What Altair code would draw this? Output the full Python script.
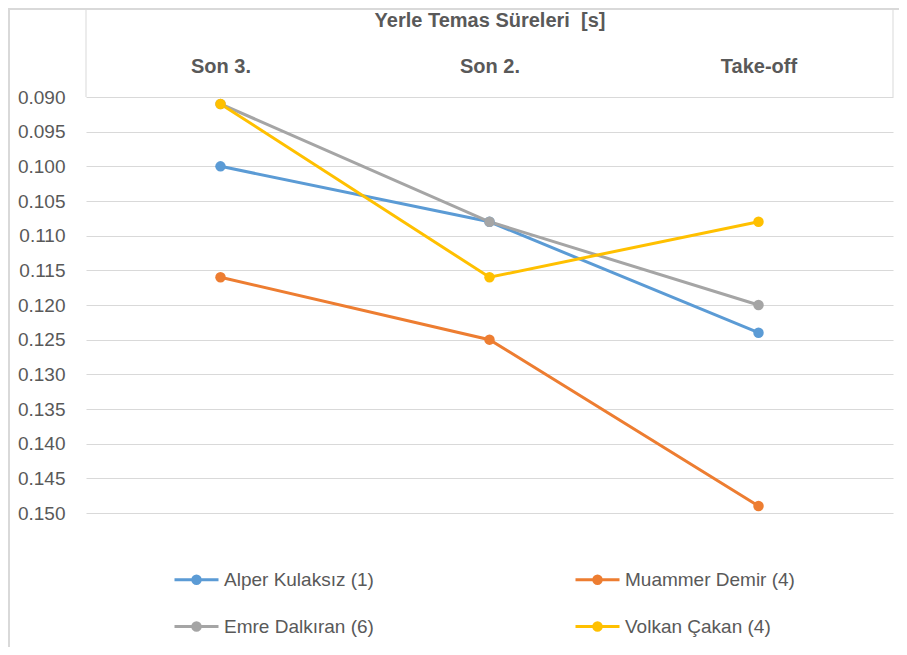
import altair as alt
import pandas as pd

categories = ["Son 3.", "Son 2.", "Take-off"]
athletes = ["Alper Kulaksız (1)", "Muammer Demir (4)", "Emre Dalkıran (6)", "Volkan Çakan (4)"]
alper = [0.100, 0.108, 0.124]
muammer = [0.116, 0.125, 0.149]
emre = [0.091, 0.108, 0.120]
volkan = [0.091, 0.116, 0.108]
colors = ["#5B9BD5", "#ED7D31", "#A5A5A5", "#FFC000"]
y_ticks = [0.090, 0.095, 0.100, 0.105, 0.110, 0.115, 0.120, 0.125,
           0.130, 0.135, 0.140, 0.145, 0.150]
title_text = "Yerle Temas Süreleri \u00a0[s]"

rows = []
for name, vals in zip(athletes, [alper, muammer, emre, volkan]):
    for i, (cat, v) in enumerate(zip(categories, vals)):
        rows.append({"athlete": name, "phase": cat, "idx": i, "value": v})
df = pd.DataFrame(rows)

FONT = "Liberation Sans"
TXT = "#595959"
GRID = "#D9D9D9"
W, H = 807, 416

sym = ("M-1,0H1"
       "M-0.068,0a0.068,0.068 0 1,0 0.136,0a0.068,0.068 0 1,0 -0.136,0"
       "M-0.17,0a0.17,0.17 0 1,0 0.34,0a0.17,0.17 0 1,0 -0.34,0")

x_enc = alt.X(
    "phase:N",
    sort=categories,
    scale=alt.Scale(domain=categories, padding=0.5),
    axis=alt.Axis(
        orient="top", title=title_text, labelAngle=0, ticks=False, tickSize=0,
        domain=False, grid=False, labelPadding=31, labelBaseline="middle",
        labelFont=FONT, labelFontSize=20, labelFontWeight="bold", labelColor=TXT,
        titleFont=FONT, titleFontSize=20, titleFontWeight="bold", titleColor=TXT,
        titleX=W / 2, titleY=-77, titleAlign="center", titleBaseline="middle",
        titleAngle=0,
    ),
)
y_enc = alt.Y(
    "value:Q",
    scale=alt.Scale(domain=[0.09, 0.15], reverse=True, nice=False, zero=False),
    axis=alt.Axis(
        values=y_ticks, format=".3f", title=None, grid=True, gridColor=GRID,
        gridWidth=1, domain=False, ticks=False, tickSize=0, labelPadding=21,
        labelFont=FONT, labelFontSize=19, labelColor=TXT,
    ),
)
color_enc = alt.Color(
    "athlete:N",
    sort=athletes,
    scale=alt.Scale(domain=athletes, range=colors),
    legend=alt.Legend(
        title=None, orient="none", legendX=87, legendY=459, direction="horizontal",
        columns=2, columnPadding=195, rowPadding=13, padding=0,
        symbolType=sym, symbolSize=1936, symbolStrokeWidth=3, labelOffset=4,
        labelFont=FONT, labelFontSize=19, labelColor=TXT, labelLimit=400,
    ),
)

base = alt.Chart(df)
lines = base.mark_line(strokeWidth=3).encode(
    x=x_enc, y=y_enc, color=color_enc, order="idx:Q"
)
points = base.mark_point(filled=True, size=110, opacity=1).encode(
    x=x_enc, y=y_enc, color=color_enc
)

one = alt.Data(values=[{}])
hdr_left = alt.Chart(one).mark_rule(color=GRID, strokeWidth=1).encode(
    x=alt.value(0), y=alt.value(-89), y2=alt.value(0))
hdr_right = alt.Chart(one).mark_rule(color=GRID, strokeWidth=1).encode(
    x=alt.value(W), y=alt.value(-89), y2=alt.value(0))
outer_top = alt.Chart(one).mark_rule(color=GRID, strokeWidth=2).encode(
    x=alt.value(-77), x2=alt.value(813), y=alt.value(-88))
outer_left = alt.Chart(one).mark_rule(color=GRID, strokeWidth=2).encode(
    x=alt.value(-77), y=alt.value(-89), y2=alt.value(560))

chart = alt.layer(
    hdr_left, hdr_right, outer_top, outer_left, lines, points
).properties(
    width=W, height=H,
    autosize=alt.AutoSizeParams(type="none"),
    padding={"left": 78, "top": 89, "right": 6, "bottom": 134},
    background="white",
).configure_view(strokeWidth=0)

chart.save("out.html", embed_options={"renderer": "svg", "actions": False})
